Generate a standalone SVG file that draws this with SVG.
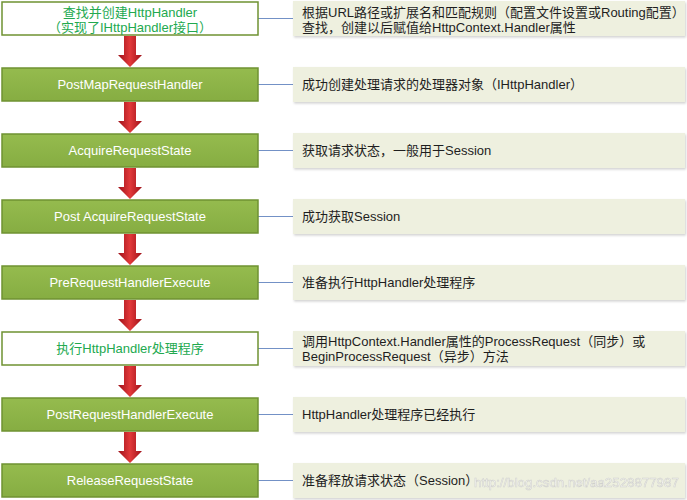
<svg xmlns="http://www.w3.org/2000/svg" width="687" height="500" viewBox="0 0 687 500">
<defs>
<linearGradient id="ag" x1="0" y1="0" x2="1" y2="0">
<stop offset="0" stop-color="#9e1018"/>
<stop offset="0.5" stop-color="#e2393a"/>
<stop offset="1" stop-color="#9e1018"/>
</linearGradient>
<linearGradient id="gg" x1="0" y1="0" x2="0" y2="1">
<stop offset="0" stop-color="#95bb4e"/>
<stop offset="1" stop-color="#86ad42"/>
</linearGradient>
<filter id="sh" x="-5%" y="-20%" width="110%" height="150%">
<feDropShadow dx="1" dy="1.5" stdDeviation="1.2" flood-color="#000" flood-opacity="0.18"/>
</filter>
<path id="arrow" d="M-6,0 H6 V19 H12 L0,31 L-12,19 H-6 Z"/>
</defs>
<style>
text{font-family:"Liberation Sans","Noto Sans CJK SC",sans-serif;font-size:13px}
.g{fill:url(#gg);stroke:#6f9232;stroke-width:1.5}
.w{fill:#fff;stroke:#6f9232;stroke-width:1.5}
.r{fill:#eef0df;filter:url(#sh)}
.lt{fill:#fff;text-anchor:middle}
.gt{fill:#22a94f;text-anchor:middle}
.rt{fill:#1e1e1e}
.c{stroke:#7391c6;stroke-width:1.2;fill:none}
.a{fill:url(#ag)}
</style>
<rect width="687" height="500" fill="#fff"/>
<g id="arrows">
<use href="#arrow" class="a" x="130" y="36"/>
<use href="#arrow" class="a" x="130" y="102"/>
<use href="#arrow" class="a" x="130" y="168"/>
<use href="#arrow" class="a" x="130" y="234"/>
<use href="#arrow" class="a" x="130" y="300"/>
<use href="#arrow" class="a" x="130" y="366"/>
<use href="#arrow" class="a" x="130" y="432"/>
</g>
<g id="connectors">
<line class="c" x1="258" y1="18.5" x2="293" y2="18.5"/>
<line class="c" x1="258" y1="84.5" x2="293" y2="84.5"/>
<line class="c" x1="258" y1="150.5" x2="293" y2="150.5"/>
<line class="c" x1="258" y1="216.5" x2="293" y2="216.5"/>
<line class="c" x1="258" y1="282.5" x2="293" y2="282.5"/>
<line class="c" x1="258" y1="348.5" x2="293" y2="348.5"/>
<line class="c" x1="258" y1="414.5" x2="293" y2="414.5"/>
<line class="c" x1="258" y1="480.5" x2="293" y2="480.5"/>
</g>
<g id="n1"><rect class="w" x="2" y="2" width="256" height="33"/><text class="gt" x="130" y="16.5">查找并创建HttpHandler<tspan x="130" dy="15">（实现了IHttpHandler接口）</tspan></text></g>
<g id="n2"><rect class="g" x="2" y="68" width="256" height="33"/><text class="lt" x="130" y="89">PostMapRequestHandler</text></g>
<g id="n3"><rect class="g" x="2" y="134" width="256" height="33"/><text class="lt" x="130" y="155">AcquireRequestState</text></g>
<g id="n4"><rect class="g" x="2" y="200" width="256" height="33"/><text class="lt" x="130" y="221">Post AcquireRequestState</text></g>
<g id="n5"><rect class="g" x="2" y="266" width="256" height="33"/><text class="lt" x="130" y="287">PreRequestHandlerExecute</text></g>
<g id="n6"><rect class="w" x="2" y="332" width="256" height="33"/><text class="gt" x="130" y="353">执行HttpHandler处理程序</text></g>
<g id="n7"><rect class="g" x="2" y="398" width="256" height="33"/><text class="lt" x="130" y="419">PostRequestHandlerExecute</text></g>
<g id="n8"><rect class="g" x="2" y="464" width="256" height="33"/><text class="lt" x="130" y="485">ReleaseRequestState</text></g>
<g id="d1"><rect class="r" x="293" y="1" width="392" height="35"/><text class="rt" x="302" y="16.5">根据URL路径或扩展名和匹配规则（配置文件设置或Routing配置）<tspan x="302" dy="15">查找，创建以后赋值给HttpContext.Handler属性</tspan></text></g>
<g id="d2"><rect class="r" x="293" y="67" width="392" height="35"/><text class="rt" x="302" y="89">成功创建处理请求的处理器对象（IHttpHandler）</text></g>
<g id="d3"><rect class="r" x="293" y="133" width="392" height="35"/><text class="rt" x="302" y="155">获取请求状态，一般用于Session</text></g>
<g id="d4"><rect class="r" x="293" y="199" width="392" height="35"/><text class="rt" x="302" y="221">成功获取Session</text></g>
<g id="d5"><rect class="r" x="293" y="265" width="392" height="35"/><text class="rt" x="302" y="287">准备执行HttpHandler处理程序</text></g>
<g id="d6"><rect class="r" x="293" y="331" width="392" height="35"/><text class="rt" x="302" y="346">调用HttpContext.Handler属性的ProcessRequest（同步）或<tspan x="302" dy="15">BeginProcessRequest（异步）方法</tspan></text></g>
<g id="d7"><rect class="r" x="293" y="397" width="392" height="35"/><text class="rt" x="302" y="419">HttpHandler处理程序已经执行</text></g>
<g id="d8"><rect class="r" x="293" y="463" width="392" height="35"/><text class="rt" x="302" y="485">准备释放请求状态（Session）</text></g>
<text x="474" y="487" style="font-family:'Liberation Sans',sans-serif;font-size:13.3px;fill:#ffffff;stroke:#c9c9c9;stroke-width:0.6;opacity:0.8">http://blog.csdn.net/aa2528877987</text>
</svg>
